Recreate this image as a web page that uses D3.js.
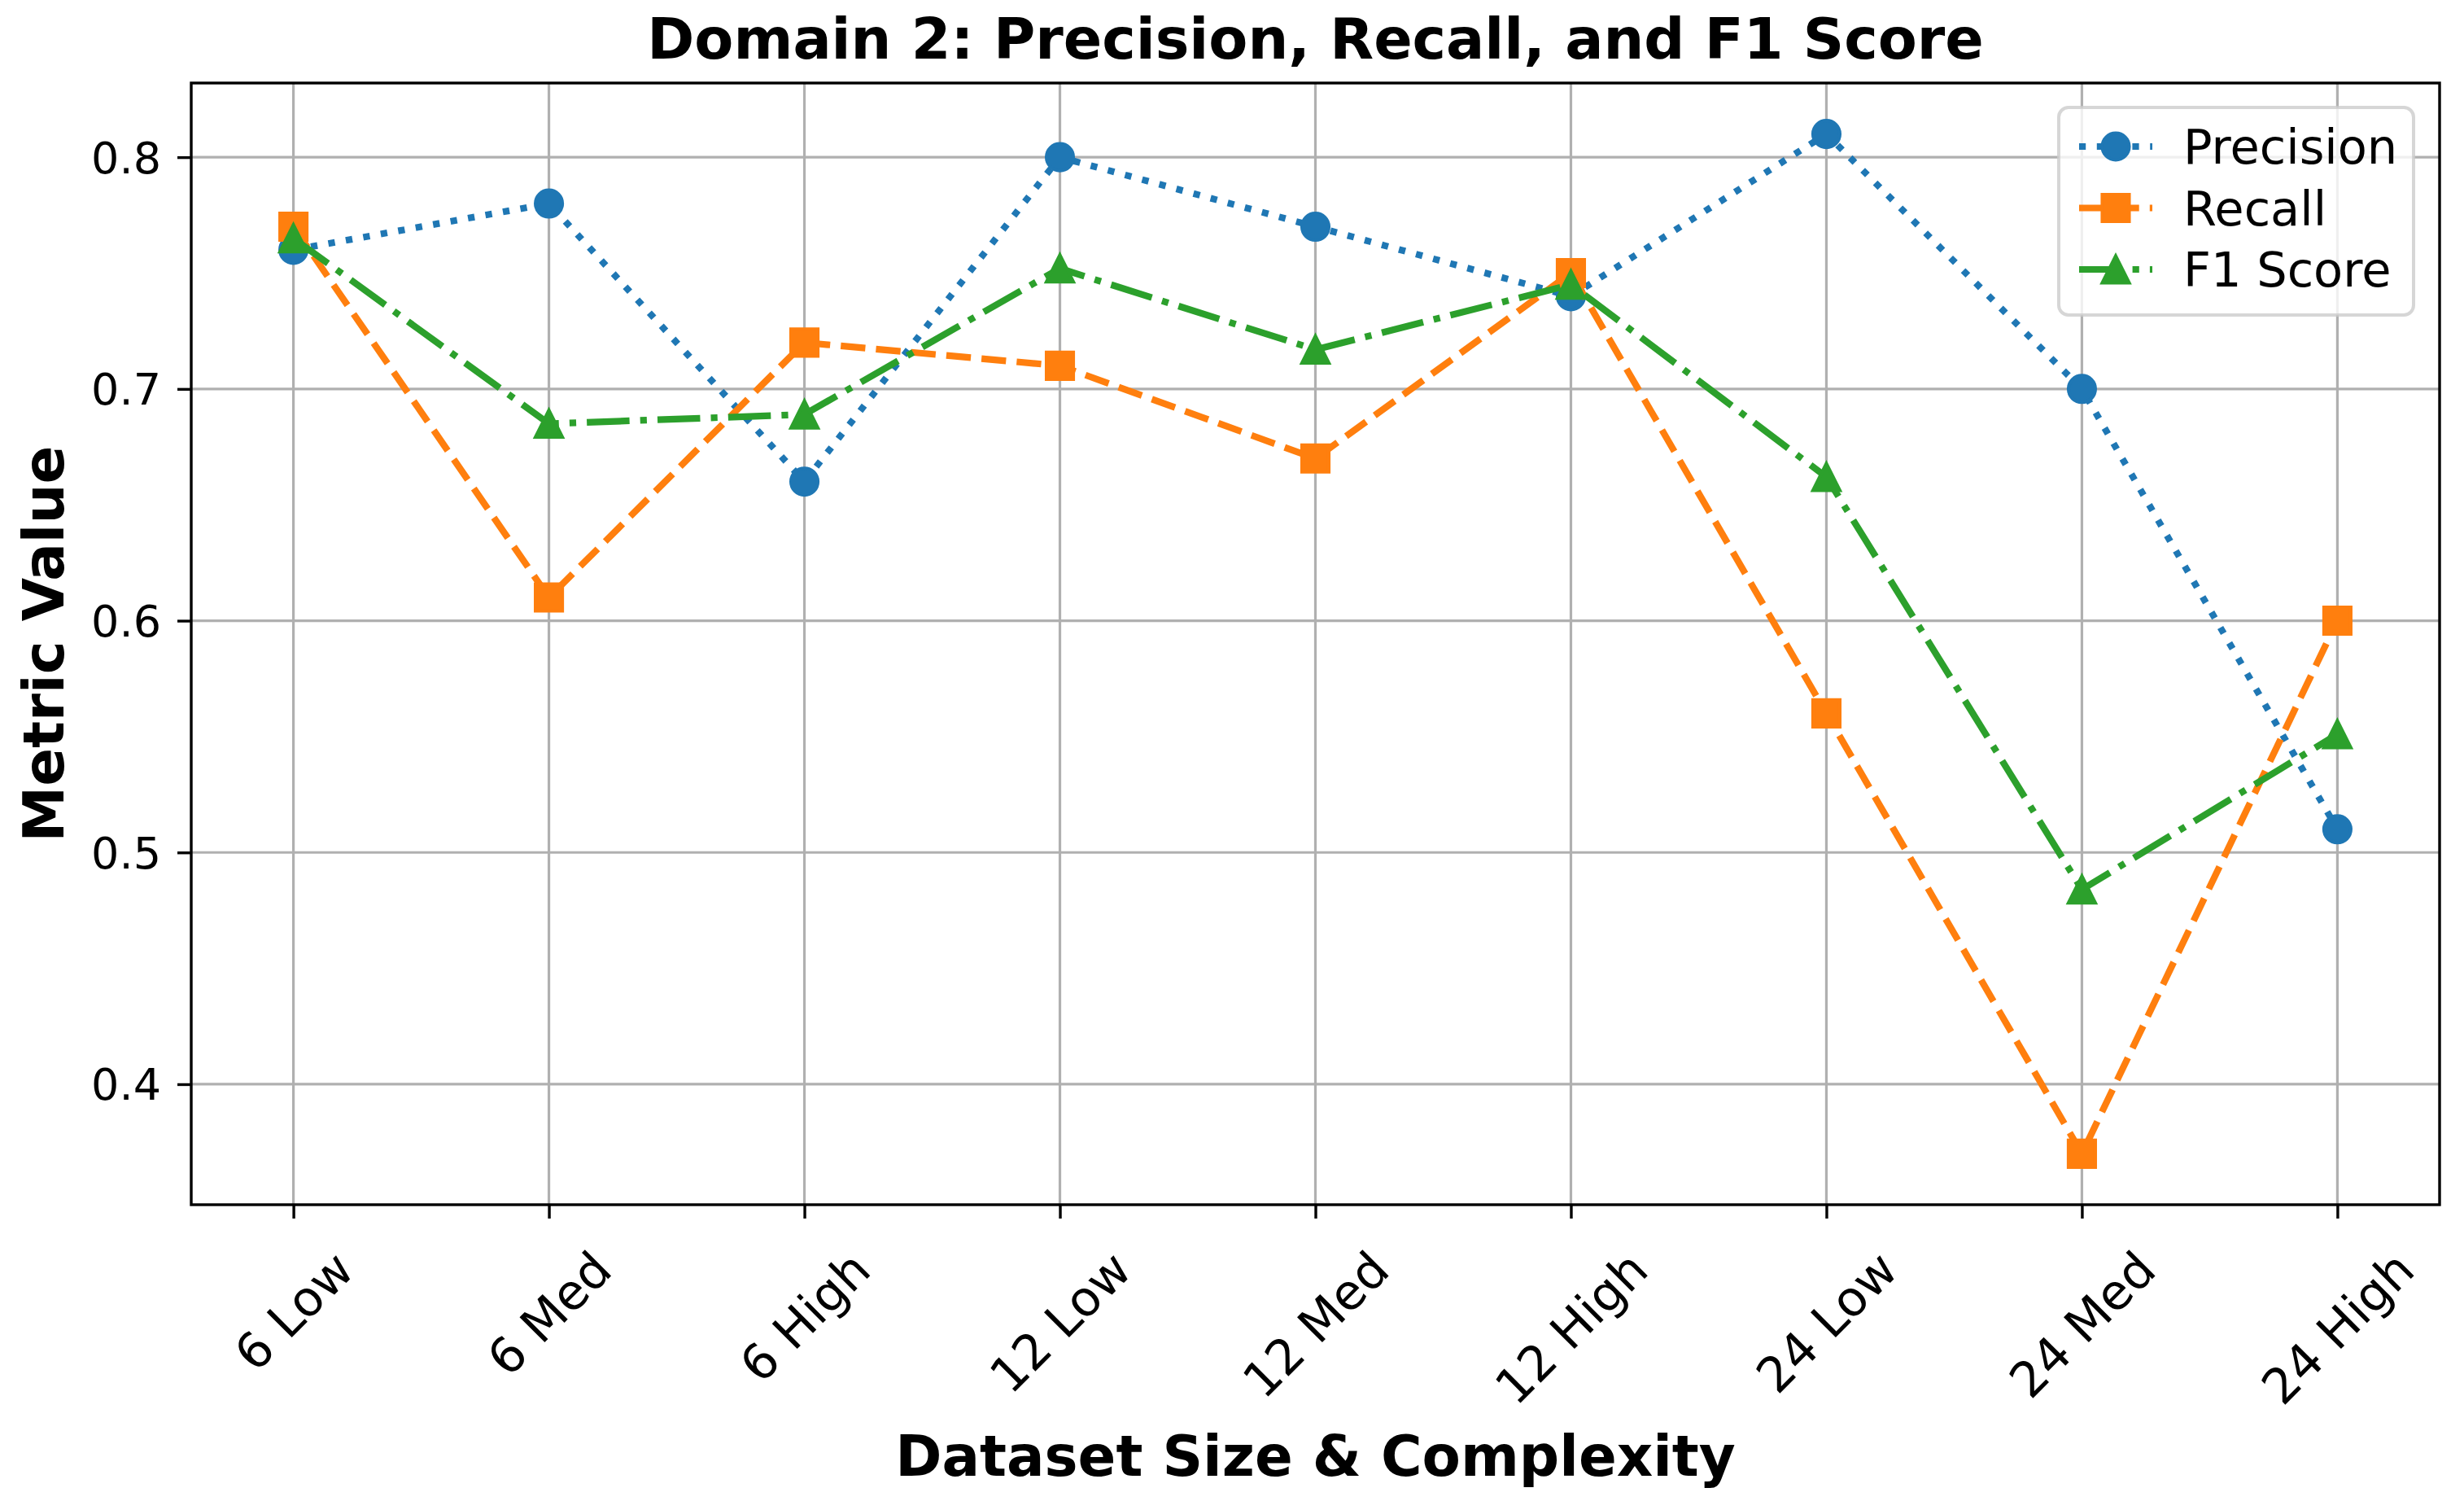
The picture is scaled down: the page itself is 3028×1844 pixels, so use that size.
<!DOCTYPE html>
<html>
<head>
<meta charset="utf-8">
<script src="https://cdnjs.cloudflare.com/ajax/libs/d3/7.8.5/d3.min.js"></script>
<style>
  body { margin: 0; background: #fff; }
  text { font-family: "DejaVu Sans", sans-serif; fill: #000; }
</style>
</head>
<body>
<div id="chart"></div>
<script>
// values
var categories = ["6 Low", "6 Med", "6 High", "12 Low", "12 Med", "12 High", "24 Low", "24 Med", "24 High"];
var precision = [0.76, 0.78, 0.66, 0.80, 0.77, 0.74, 0.81, 0.70, 0.51];
var recall = [0.77, 0.61, 0.72, 0.71, 0.67, 0.75, 0.56, 0.37, 0.60];
var f1Score = [0.765, 0.685, 0.689, 0.752, 0.717, 0.745, 0.662, 0.484, 0.551];
var yTicks = [0.4, 0.5, 0.6, 0.7, 0.8];
var seriesNames = ["Precision", "Recall", "F1 Score"];

var width = 3028,
    height = 1844;
var margin = {top: 102, right: 30, bottom: 364, left: 235};
var plotW = width - margin.left - margin.right,
    plotH = height - margin.top - margin.bottom;

var series = [
  {name: seriesNames[0], values: precision, color: "#1f77b4", dash: "8.2,13.6", marker: "circle"},
  {name: seriesNames[1], values: recall, color: "#ff7f0e", dash: "30.3,13.1", marker: "square"},
  {name: seriesNames[2], values: f1Score, color: "#2ca02c", dash: "52.5,13.1,8.2,13.1", marker: "triangle"}
];

var svg = d3.select("#chart")
  .append("svg")
  .attr("width", width)
  .attr("height", height)
  .style("display", "block");

svg.append("rect")
  .attr("width", width)
  .attr("height", height)
  .attr("fill", "#fff");

var g = svg.append("g")
  .attr("transform", "translate(" + margin.left + "," + margin.top + ")");

// matplotlib style 5% margins on both axes
var x = d3.scaleLinear()
  .domain([-0.4, categories.length - 1 + 0.4])
  .range([0, plotW]);

var y = d3.scaleLinear()
  .domain([0.348, 0.832])
  .range([plotH, 0]);

// grid
g.append("g")
  .selectAll("line.vgrid")
  .data(d3.range(categories.length))
  .enter()
  .append("line")
  .attr("x1", function (d) { return x(d); })
  .attr("x2", function (d) { return x(d); })
  .attr("y1", 0)
  .attr("y2", plotH)
  .attr("stroke", "#b0b0b0")
  .attr("stroke-width", 3.2);

g.append("g")
  .selectAll("line.hgrid")
  .data(yTicks)
  .enter()
  .append("line")
  .attr("x1", 0)
  .attr("x2", plotW)
  .attr("y1", function (d) { return y(d); })
  .attr("y2", function (d) { return y(d); })
  .attr("stroke", "#b0b0b0")
  .attr("stroke-width", 3.2);

// marker shapes, sized like matplotlib markersize 8
var ms = 33;
function markerPath(type) {
  var p = d3.path(), h = ms / 2;
  if (type === "circle") {
    p.arc(0, 0, h, 0, 2 * Math.PI);
  } else if (type === "square") {
    p.rect(-h, -h, ms, ms);
  } else {
    p.moveTo(0, -h);
    p.lineTo(-h, h);
    p.lineTo(h, h);
    p.closePath();
  }
  return p.toString();
}

var line = d3.line()
  .x(function (d, i) { return x(i); })
  .y(function (d) { return y(d); });

series.forEach(function (s) {
  var sg = g.append("g");
  sg.append("path")
    .attr("d", line(s.values))
    .attr("fill", "none")
    .attr("stroke", s.color)
    .attr("stroke-width", 8.2)
    .attr("stroke-dasharray", s.dash)
    .attr("stroke-linejoin", "round");

  sg.selectAll("path.mark")
    .data(s.values)
    .enter()
    .append("path")
    .attr("class", "mark")
    .attr("d", markerPath(s.marker))
    .attr("transform", function (d, i) { return "translate(" + x(i) + "," + y(d) + ")"; })
    .attr("fill", s.color)
    .attr("stroke", s.color)
    .attr("stroke-width", 4.1)
    .attr("stroke-linejoin", "miter");
});

// axes
var yAxis = g.append("g")
  .call(d3.axisLeft(y).tickValues(yTicks).tickSize(17).tickPadding(20).tickFormat(d3.format(".1f")));

var xAxis = g.append("g")
  .attr("transform", "translate(0," + plotH + ")")
  .call(d3.axisBottom(x).tickValues(d3.range(categories.length)).tickSize(17)
    .tickFormat(function (i) { return categories[i]; }));

[xAxis, yAxis].forEach(function (ax) {
  ax.select(".domain").remove();
  ax.selectAll(".tick line").attr("stroke", "#000").attr("stroke-width", 3.4);
  ax.selectAll(".tick text")
    .style("font-family", "DejaVu Sans")
    .attr("fill", "#000");
});

yAxis.selectAll(".tick text")
  .style("font-size", "54px")
  .attr("dy", "0.35em");

// rotated x labels, centred under the tick like ha='center'
var fs = 60, labelTop = 44;
xAxis.selectAll(".tick text")
  .style("font-size", fs + "px")
  .attr("y", null)
  .attr("dy", null)
  .attr("text-anchor", "middle")
  .attr("dominant-baseline", "central")
  .attr("transform", function () {
    var w = this.getComputedTextLength();
    var cy = labelTop + (w + fs * 1.17) / (2 * Math.SQRT2);
    return "translate(0," + cy + ") rotate(-45)";
  });

// spines
g.append("rect")
  .attr("width", plotW)
  .attr("height", plotH)
  .attr("fill", "none")
  .attr("stroke", "#000")
  .attr("stroke-width", 3.4);

// legend
var lg = svg.append("g");
lg.append("rect")
  .attr("x", 2530)
  .attr("y", 132)
  .attr("width", 436)
  .attr("height", 255)
  .attr("rx", 12)
  .attr("fill", "#fff")
  .attr("fill-opacity", 0.8)
  .attr("stroke", "#cccccc")
  .attr("stroke-opacity", 0.8)
  .attr("stroke-width", 4);

series.forEach(function (s, i) {
  var ry = 180 + i * 75.5;
  lg.append("line")
    .attr("x1", 2555)
    .attr("x2", 2645)
    .attr("y1", ry)
    .attr("y2", ry)
    .attr("stroke", s.color)
    .attr("stroke-width", 8.2)
    .attr("stroke-dasharray", s.dash);
  lg.append("path")
    .attr("d", markerPath(s.marker))
    .attr("transform", "translate(2600," + ry + ")")
    .attr("fill", s.color)
    .attr("stroke", s.color)
    .attr("stroke-width", 4.1);
  lg.append("text")
    .attr("x", 2683)
    .attr("y", ry)
    .attr("dy", "0.36em")
    .style("font-size", "59px")
    .text(s.name);
});

// title and axis labels
svg.append("text")
  .attr("x", margin.left + plotW / 2)
  .attr("y", 72)
  .attr("text-anchor", "middle")
  .style("font-size", "70px")
  .style("font-weight", "bold")
  .text("Domain 2: Precision, Recall, and F1 Score");

svg.append("text")
  .attr("x", margin.left + plotW / 2)
  .attr("y", 1813)
  .attr("text-anchor", "middle")
  .style("font-size", "69px")
  .style("font-weight", "bold")
  .text("Dataset Size & Complexity");

svg.append("text")
  .attr("transform", "translate(78," + (margin.top + plotH / 2) + ") rotate(-90)")
  .attr("text-anchor", "middle")
  .style("font-size", "69px")
  .style("font-weight", "bold")
  .text("Metric Value");
</script>
</body>
</html>
